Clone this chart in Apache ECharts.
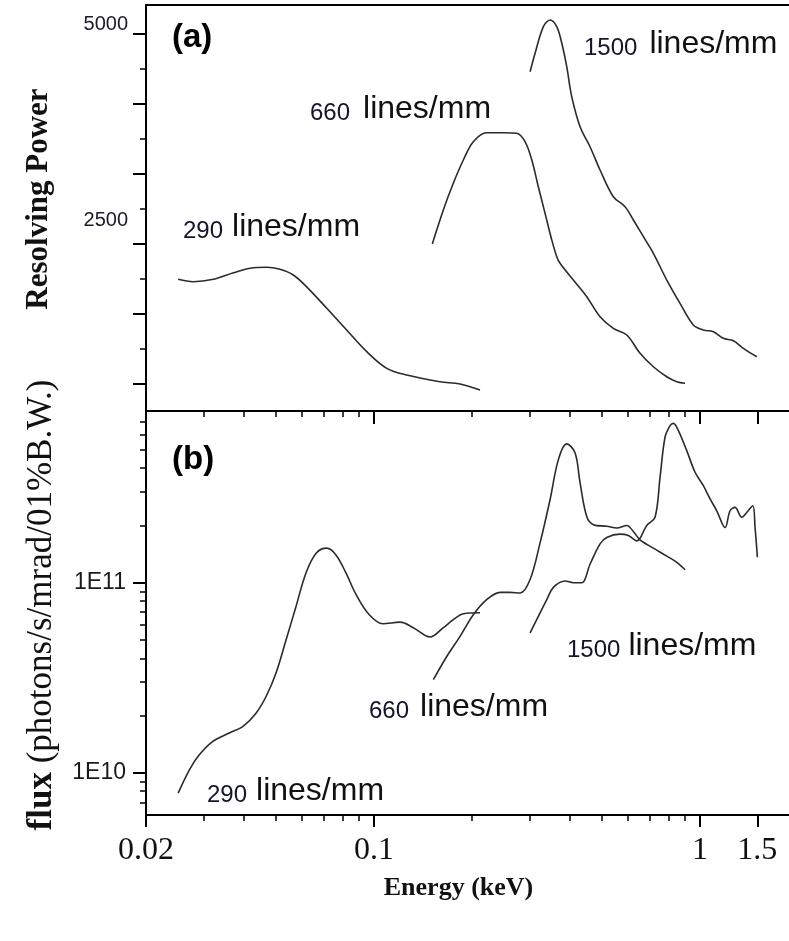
<!DOCTYPE html>
<html>
<head>
<meta charset="utf-8">
<script src="https://cdn.jsdelivr.net/npm/echarts@6/dist/echarts.min.js"></script>
<style>
html,body{margin:0;padding:0;background:#fff;}
#c{width:789px;height:941px;}
</style>
</head>
<body>
<div id="c"></div>
<script>
// ---------------- data ----------------
// Energy (keV) axis
const xMin = 0.02, xMax = 1.876;
const xMajorTicks = [0.02, 0.1, 1, 1.5];
const xMinorTicks = [0.03, 0.04, 0.05, 0.06, 0.07, 0.08, 0.09, 0.2, 0.3, 0.4, 0.5, 0.6, 0.7, 0.8, 0.9];
const xLabelValues = [0.02, 0.1, 1, 1.5];
const xLabelTexts = ['0.02', '0.1', '1', '1.5'];

// Resolving power axis (panel a)
const rpMin = 512, rpMax = 5345;
const rpMajorTicks = [833.33, 1666.67, 2500, 3333.33, 4166.67, 5000];
const rpMinorTicks = [1250, 2083.33, 2916.67, 3750, 4583.33];
const rpLabelValues = [2500, 5000];
const rpLabelTexts = ['2500', '5000'];

// Flux axis (panel b)
const fluxMin = 6e9, fluxMax = 8e11;
const fluxMajorTicks = [1e10, 1e11];
const fluxMinorTicks = [7e9, 8e9, 9e9, 2e10, 3e10, 4e10, 5e10, 6e10, 7e10, 8e10, 9e10, 2e11, 3e11, 4e11, 5e11, 6e11, 7e11];
const fluxLabelValues = [1e10, 1e11];
const fluxLabelTexts = ['1E10', '1E11'];

// Panel (a): resolving power
const energyRP290 = [0.0251, 0.0279, 0.0322, 0.0371, 0.0417, 0.0469, 0.0515, 0.0566, 0.0622, 0.0717, 0.0825, 0.0951, 0.1095, 0.1261, 0.1595, 0.1838, 0.2116];
const rp290 = [2080, 2051, 2080, 2158, 2211, 2223, 2199, 2131, 1990, 1735, 1476, 1218, 1020, 940, 861, 833, 762];

const energyRP660 = [0.1511, 0.1633, 0.1752, 0.1881, 0.2018, 0.2218, 0.2495, 0.2742, 0.2908, 0.3050, 0.3194, 0.3350, 0.3512, 0.3638, 0.3724, 0.4090, 0.4496, 0.4940, 0.5426, 0.5966, 0.6552, 0.7198, 0.7912, 0.8492, 0.9004];
const rp660 = [2500, 2905, 3223, 3500, 3718, 3825, 3825, 3818, 3718, 3500, 3182, 2865, 2548, 2349, 2270, 2071, 1873, 1634, 1496, 1417, 1199, 1039, 920, 861, 842];

const energyRP1500 = [0.3014, 0.3122, 0.3310, 0.3470, 0.3638, 0.3770, 0.3904, 0.4044, 0.4290, 0.4602, 0.4940, 0.5426, 0.5894, 0.6250, 0.6708, 0.7198, 0.7912, 0.8690, 0.9546, 1.0246, 1.0994, 1.1802, 1.2666, 1.3592, 1.494];
const rp1500 = [4551, 4770, 5087, 5167, 5087, 4889, 4611, 4254, 3896, 3658, 3381, 3063, 2944, 2786, 2587, 2389, 2071, 1794, 1536, 1476, 1456, 1377, 1349, 1258, 1158];

// Panel (b): flux
const energyFx290 = [0.0251, 0.0272, 0.0291, 0.0320, 0.0360, 0.0396, 0.0435, 0.0467, 0.0501, 0.0538, 0.0577, 0.0619, 0.0665, 0.0717, 0.0765, 0.0821, 0.0882, 0.0968, 0.1065, 0.1203, 0.1321, 0.1487, 0.1633, 0.1752, 0.1881, 0.2116];
const flux290 = [7.82e9, 1.04e10, 1.24e10, 1.46e10, 1.62e10, 1.75e10, 2.06e10, 2.52e10, 3.35e10, 5.01e10, 7.50e10, 1.125e11, 1.43e11, 1.52e11, 1.40e11, 1.125e11, 8.65e10, 6.78e10, 6.08e10, 6.20e10, 5.80e10, 5.18e10, 5.80e10, 6.39e10, 6.87e10, 6.95e10];

const energyFx660 = [0.1522, 0.1673, 0.1838, 0.2018, 0.2218, 0.2438, 0.2616, 0.2808, 0.3014, 0.3234, 0.3470, 0.3680, 0.3904, 0.4140, 0.4290, 0.4496, 0.4712, 0.5180, 0.5558, 0.5966, 0.6250, 0.6552, 0.7198, 0.7912, 0.8492, 0.9004];
const flux660 = [3.09e10, 4.09e10, 5.22e10, 6.78e10, 8.14e10, 8.89e10, 8.89e10, 8.83e10, 1.04e11, 1.62e11, 2.73e11, 4.44e11, 5.37e11, 4.82e11, 3.35e11, 2.23e11, 2.02e11, 1.98e11, 1.94e11, 2.0e11, 1.86e11, 1.68e11, 1.52e11, 1.38e11, 1.28e11, 1.17e11];

const energyFx1500 = [0.3014, 0.3390, 0.3552, 0.3858, 0.4090, 0.4340, 0.4602, 0.4940, 0.5180, 0.5688, 0.6032, 0.6402, 0.6870, 0.7284, 0.7546, 0.7816, 0.8100, 0.8290, 0.8590, 0.9112, 0.9662, 1.0246, 1.0744, 1.1262, 1.1944, 1.2372, 1.2816, 1.3438, 1.3920, 1.4522, 1.4762, 1.5006];
const flux1500 = [5.44e10, 8.14e10, 9.45e10, 1.02e11, 1.00e11, 1.00e11, 1.25e11, 1.60e11, 1.73e11, 1.80e11, 1.77e11, 1.66e11, 2.0e11, 2.21e11, 3.58e11, 5.82e11, 6.70e11, 6.89e11, 6.31e11, 4.95e11, 3.81e11, 3.24e11, 2.76e11, 2.39e11, 1.95e11, 2.39e11, 2.49e11, 2.21e11, 2.34e11, 2.54e11, 1.95e11, 1.36e11];

const panelLabels = ['(a)', '(b)'];
const curveNumbers = ['290', '660', '1500'];
const curveUnit = 'lines/mm';

// ---------------- chart ----------------
const zip = (xs, ys) => xs.map((x, i) => [x, ys[i]]);
const findLabel = (vals, texts, v) => {
  for (let i = 0; i < vals.length; i++) {
    if (Math.abs(vals[i] - v) <= Math.abs(vals[i]) * 1e-6) return texts[i];
  }
  return '';
};

const BLACK = '#000';
const CURVE = '#2b2b2b';
const sans = '"Liberation Sans", Arial, sans-serif';
const serif = '"Liberation Serif", "Times New Roman", serif';

function xAxisBase(grid, pos) {
  return {
    gridIndex: grid, type: 'log', logBase: 10, min: xMin, max: xMax, position: pos,
    splitLine: {show: false}, minorTick: {show: false},
    axisLine: {show: false, onZero: false, lineStyle: {color: BLACK, width: 2}},
    axisTick: {show: false}, axisLabel: {show: false}
  };
}

const xAxes = [];
// top grid: bottom line with major ticks
let a = xAxisBase(0, 'bottom');
a.axisLine.show = true;
a.axisTick = {show: true, inside: false, length: 13, customValues: xMajorTicks, lineStyle: {color: BLACK, width: 2}};
xAxes.push(a);
// top grid: minor ticks
a = xAxisBase(0, 'bottom');
a.axisTick = {show: true, inside: false, length: 6, customValues: xMinorTicks, lineStyle: {color: BLACK, width: 1.5}};
xAxes.push(a);
// top grid: top border
a = xAxisBase(0, 'top');
a.axisLine.show = true;
xAxes.push(a);
// bottom grid: main axis with labels
a = xAxisBase(1, 'bottom');
a.axisLine.show = true;
a.axisTick = {show: true, inside: false, length: 12, customValues: xMajorTicks, lineStyle: {color: BLACK, width: 2}};
a.axisLabel = {
  show: true, customValues: xLabelValues, margin: 20,
  fontFamily: serif, fontSize: 32, color: '#111',
  formatter: v => findLabel(xLabelValues, xLabelTexts, v)
};
a.name = 'Energy (keV)';
a.nameLocation = 'middle';
a.nameGap = 60;
a.nameTextStyle = {fontFamily: serif, fontWeight: 'bold', fontSize: 26, color: '#111', padding: [0, 18, 0, 0]};
xAxes.push(a);
// bottom grid: minor ticks
a = xAxisBase(1, 'bottom');
a.axisTick = {show: true, inside: false, length: 6, customValues: xMinorTicks, lineStyle: {color: BLACK, width: 1.5}};
xAxes.push(a);

const yAxes = [
  {
    gridIndex: 0, type: 'value', min: rpMin, max: rpMax, position: 'left',
    splitLine: {show: false},
    axisLine: {show: true, onZero: false, lineStyle: {color: BLACK, width: 2}},
    axisTick: {show: true, length: 13, customValues: rpMajorTicks, lineStyle: {color: BLACK, width: 2}},
    axisLabel: {
      show: true, customValues: rpLabelValues, margin: 18,
      fontFamily: sans, fontSize: 20, color: '#1a1a2a',
      formatter: v => {
        const i = rpLabelValues.indexOf(v);
        return '{k' + i + '|' + findLabel(rpLabelValues, rpLabelTexts, v) + '}';
      },
      rich: {
        k0: {fontFamily: sans, fontSize: 20, color: '#1a1a2a', padding: [0, 0, 47, 0]},
        k1: {fontFamily: sans, fontSize: 20, color: '#1a1a2a', padding: [0, 0, 18, 0]}
      }
    },
    name: 'Resolving Power', nameLocation: 'middle', nameGap: 92, nameRotate: 90,
    nameTextStyle: {fontFamily: serif, fontWeight: 'bold', fontSize: 31, color: '#111', padding: [0, 0, 0, 18]}
  },
  {
    gridIndex: 0, type: 'value', min: rpMin, max: rpMax, position: 'left',
    splitLine: {show: false},
    axisLine: {show: false, onZero: false},
    axisTick: {show: true, length: 6, customValues: rpMinorTicks, lineStyle: {color: BLACK, width: 1.5}},
    axisLabel: {show: false}
  },
  {
    gridIndex: 1, type: 'log', logBase: 10, min: fluxMin, max: fluxMax, position: 'left',
    splitLine: {show: false}, minorTick: {show: false},
    axisLine: {show: true, onZero: false, lineStyle: {color: BLACK, width: 2}},
    axisTick: {show: true, length: 13, customValues: fluxMajorTicks, lineStyle: {color: BLACK, width: 2}},
    axisLabel: {
      show: true, customValues: fluxLabelValues, margin: 20,
      fontFamily: sans, fontSize: 23, color: '#1a1a1a',
      formatter: v => findLabel(fluxLabelValues, fluxLabelTexts, v)
    },
    name: '{b|flux }{r|(photons/s/mrad/01%B.W.)}', nameLocation: 'middle', nameGap: 87, nameRotate: 90,
    nameTextStyle: {
      color: '#111',
      rich: {
        b: {fontFamily: serif, fontWeight: 'bold', fontSize: 35, color: '#111', padding: [0, 0, 0, 16]},
        r: {fontFamily: serif, fontSize: 35, color: '#111'}
      }
    }
  },
  {
    gridIndex: 1, type: 'log', logBase: 10, min: fluxMin, max: fluxMax, position: 'left',
    splitLine: {show: false}, minorTick: {show: false},
    axisLine: {show: false, onZero: false},
    axisTick: {show: true, length: 6, customValues: fluxMinorTicks, lineStyle: {color: BLACK, width: 1.5}},
    axisLabel: {show: false}
  }
];

function lineSeries(xi, yi, xs, ys) {
  return {
    type: 'line', xAxisIndex: xi, yAxisIndex: yi, data: zip(xs, ys),
    showSymbol: false, symbol: 'none', smooth: 0.35, silent: true,
    lineStyle: {color: CURVE, width: 1.6}
  };
}

const series = [
  lineSeries(0, 0, energyRP290, rp290),
  lineSeries(0, 0, energyRP660, rp660),
  lineSeries(0, 0, energyRP1500, rp1500),
  lineSeries(3, 2, energyFx290, flux290),
  lineSeries(3, 2, energyFx660, flux660),
  lineSeries(3, 2, energyFx1500, flux1500)
];

// annotation placement (layout only)
const annot = [
  {num: curveNumbers[0], left: 183, top: 211, gap: 9},
  {num: curveNumbers[1], left: 310, top: 93, gap: 13},
  {num: curveNumbers[2], left: 584, top: 28, gap: 12},
  {num: curveNumbers[0], left: 207, top: 775, gap: 9},
  {num: curveNumbers[1], left: 369, top: 691, gap: 11},
  {num: curveNumbers[2], left: 567, top: 630, gap: 8}
];

const graphic = [
  {type: 'text', left: 172, top: 21, silent: true,
   style: {text: panelLabels[0], font: 'bold 33px ' + sans, fill: '#000'}},
  {type: 'text', left: 172, top: 443, silent: true,
   style: {text: panelLabels[1], font: 'bold 33px ' + sans, fill: '#000'}}
];
annot.forEach(an => {
  graphic.push({
    type: 'text', left: an.left, top: an.top, silent: true,
    style: {
      text: '{n|' + an.num + '}{t|' + curveUnit + '}',
      font: '32px ' + sans,
      rich: {
        n: {fontSize: 24, fontFamily: sans, fill: '#15152a', color: '#15152a', verticalAlign: 'bottom', padding: [0, an.gap, 0, 0]},
        t: {fontSize: 32, fontFamily: sans, fill: '#111', color: '#111', verticalAlign: 'bottom'}
      }
    }
  });
});

const option = {
  animation: false,
  backgroundColor: '#fff',
  grid: [
    {left: 146, right: 0, top: 5, height: 406},
    {left: 146, right: 0, top: 411, height: 404}
  ],
  xAxis: xAxes,
  yAxis: yAxes,
  series: series,
  graphic: graphic
};

const chart = echarts.init(document.getElementById('c'), null, {renderer: 'canvas', width: 789, height: 941});
chart.setOption(option);
</script>
</body>
</html>
